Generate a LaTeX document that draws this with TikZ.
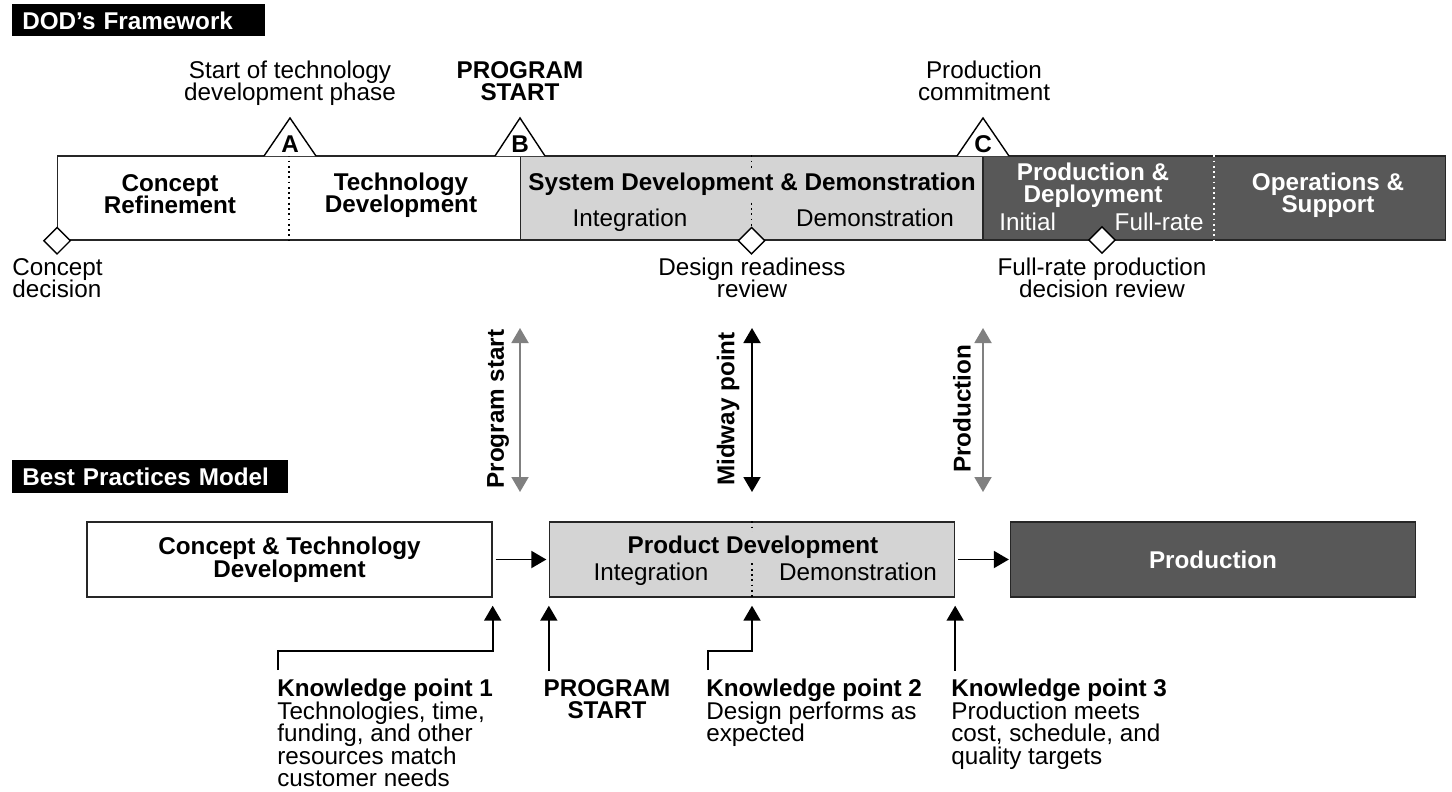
\documentclass[tikz,border=0pt]{standalone}
\usepackage{fontspec}
\setmainfont{Liberation Sans}
\usetikzlibrary{arrows.meta, positioning, shapes.geometric}
\definecolor{midgray}{RGB}{212,212,212}
\definecolor{darkbar}{RGB}{88,88,88}
\definecolor{arrowgray}{RGB}{128,128,128}
\tikzset{
  lbl/.style={align=center, inner sep=0},
  bold/.style={lbl, font=\bfseries},
  tag/.style={fill=black, text=white, font=\bfseries, inner xsep=0.2cm, inner ysep=0, align=left, anchor=north west},
  phase/.style={draw=black!85, line width=.8pt, inner sep=0, minimum height=1.68cm, minimum width=9.25cm},
  block/.style={draw=black!85, line width=.8pt, inner sep=0, minimum height=1.5cm, minimum width=8.1cm},
  review/.style={diamond, draw, fill=white, line width=.8pt, minimum size=0.54cm, inner sep=0},
  sep/.style={dotted, line width=1pt},
  tip/.style={line width=1.1pt, -{Triangle[length=0.3cm,width=0.34cm]}},
  both/.style={line width=1.1pt, {Triangle[length=0.3cm,width=0.34cm]}-{Triangle[length=0.3cm,width=0.34cm]}}
}
\begin{document}
\fontsize{13.8}{12.8}\selectfont
\lineskiplimit=-100pt
\begin{tikzpicture}[x=0.02cm, y=-0.02cm]
\useasboundingbox (0,0) rectangle (1452,791);

% DOD's framework
\node[tag, text width=4.66cm, minimum height=0.64cm] (dod) at (12,4) {DOD’s Framework};

\node[phase] (dev) at (289,198) {};
\node[phase, fill=midgray] (sdd) at (751.5,198) {};
\node[phase, fill=darkbar] (prdp) at (1214,198) {};
\draw[sep] (dev.north) -- (dev.south);
\draw[sep] (sdd.north) -- (sdd.south);
\draw[sep, white] (prdp.north) -- (prdp.south);

% milestones
\draw[fill=white, line width=.8pt] (264,156) -- (290,118) -- (316,156);
\draw[fill=white, line width=.8pt] (495,156) -- (520,118) -- (545,156);
\draw[fill=white, line width=.8pt] (957,156) -- (983,118) -- (1009,156);
\node[bold] (msA) at (290,144) {A};
\node[bold] (msB) at (520,144) {B};
\node[bold] (msC) at (983,144) {C};
\node[lbl] (msAl) at (290,83) {Start of technology\\development phase};
\node[bold] (msBl) at (520,81) {PROGRAM\\START};
\node[lbl] (msCl) at (984,81) {Production\\commitment};

\node[bold] (crt) at (170,194) {Concept\\Refinement};
\node[bold] (tdt) at (401,195) {Technology\\Development};
\node[bold, fill=midgray, inner ysep=2pt] (sddt) at (752,184) {System Development \& Demonstration};
\node[lbl] (sdi) at (630,220) {Integration};
\node[lbl] (sdm) at (875,218) {Demonstration};
\node[bold, text=white] (pdt) at (1093,185) {Production \&\\Deployment};
\node[lbl, text=white, anchor=west] (pdi) at (999,222) {Initial};
\node[lbl, text=white, anchor=east] (pdf) at (1204,222) {Full-rate};
\node[bold, text=white] (ost) at (1328,195) {Operations \&\\Support};

% reviews
\node[review] (cd) at (dev.south west) {};
\node[review] (drr) at (sdd.south) {};
\node[review] (frp) at (1102,240) {};
\node[lbl, align=left, anchor=west] (cdl) at (12,278) {Concept\\decision};
\node[lbl] (drrl) at (752,278) {Design readiness\\review};
\node[lbl] (frpl) at (1102,278) {Full-rate production\\decision review};

% links between the two models
\coordinate (psT) at (520,328);
\coordinate (psB) at (520,492);
\coordinate (mwT) at (752,328);
\coordinate (mwB) at (752,492);
\coordinate (pnT) at (983,328);
\coordinate (pnB) at (983,492);
\draw[both, arrowgray] (psT) -- (psB);
\draw[both] (mwT) -- (mwB);
\draw[both, arrowgray] (pnT) -- (pnB);
\node[bold, rotate=90] (psl) at (498,409) {Program start};
\node[bold, rotate=90] (mwl) at (728,409) {Midway point};
\node[bold, rotate=90] (pnl) at (962,409) {Production};

% best practices model
\node[tag, text width=5.12cm, minimum height=0.66cm] (bpm) at (12,460) {Best Practices Model};

\node[block, font=\bfseries, align=center] (ctd) at (289.5,559.5) {Concept \& Technology\\Development};
\node[block, fill=midgray] (pdv) at (752,559.5) {};
\draw[sep] (pdv.north) -- (pdv.south);
\node[bold, fill=midgray, inner ysep=2pt] (pdvt) at (753,547) {Product Development};
\node[lbl] (pdvi) at (651,574) {Integration};
\node[lbl] (pdvm) at (858,572) {Demonstration};
\node[block, fill=darkbar, text=white, font=\bfseries] (prd) at (1213,559.5) {Production};
\draw[tip, shorten <=0.06cm, shorten >=0.05cm] (ctd) -- (pdv);
\draw[tip, shorten <=0.06cm, shorten >=0.02cm] (pdv) -- (prd);

% knowledge points
\node[lbl, align=left, anchor=north west] (kp1) at (277,679) {\textbf{Knowledge point 1}\\Technologies, time,\\funding, and other\\resources match\\customer needs};
\node[bold, anchor=north] (pst) at (607,679) {PROGRAM\\START};
\node[lbl, align=left, anchor=north west] (kp2) at (706,679) {\textbf{Knowledge point 2}\\Design performs as\\expected};
\node[lbl, align=left, anchor=north west] (kp3) at (951,679) {\textbf{Knowledge point 3}\\Production meets\\cost, schedule, and\\quality targets};
\coordinate (kp1f) at (278,670);
\coordinate (psf) at ([yshift=-1.46cm]pdv.south west);
\coordinate (kp2f) at (708,670);
\coordinate (kp3f) at ([yshift=-1.46cm]pdv.south east);
\draw[tip] (kp1f) -- ++(0,-19) -| ([yshift=-0.16cm]ctd.south east);
\draw[tip] (psf) -- ([yshift=-0.16cm]pdv.south west);
\draw[tip] (kp2f) -- ++(0,-19) -| ([yshift=-0.16cm]pdv.south);
\draw[tip] (kp3f) -- ([yshift=-0.16cm]pdv.south east);
\end{tikzpicture}
\end{document}
